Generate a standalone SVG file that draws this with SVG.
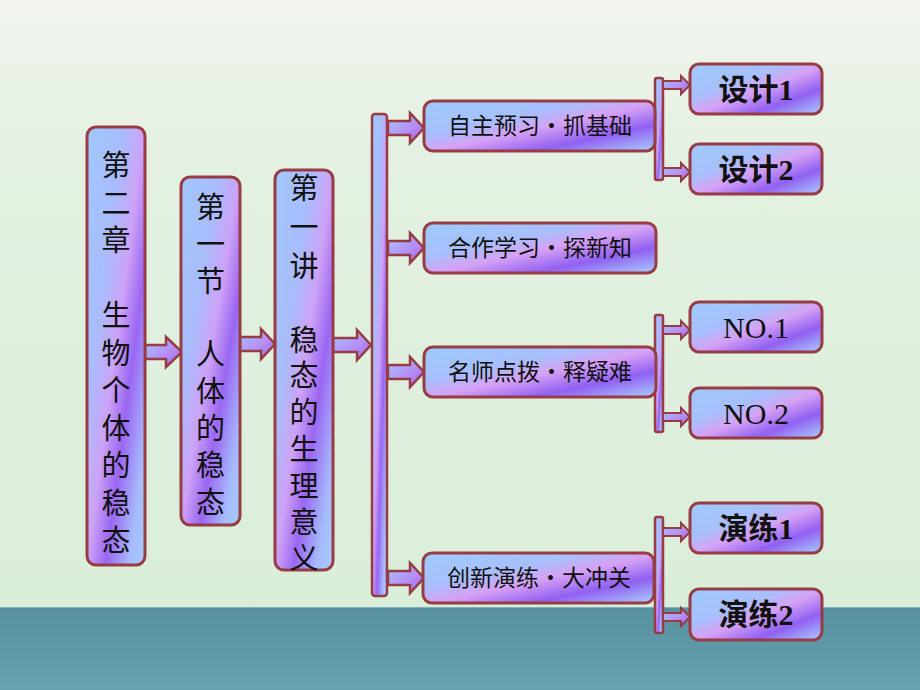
<svg xmlns="http://www.w3.org/2000/svg" width="920" height="690" viewBox="0 0 920 690">
<defs>
<linearGradient id="bg" x1="0" y1="0" x2="0" y2="1">
<stop offset="0" stop-color="#f1f4ef"/>
<stop offset="0.25" stop-color="#e4f1e2"/>
<stop offset="1" stop-color="#d9eed9"/>
</linearGradient>
<linearGradient id="sea" x1="0" y1="0" x2="0" y2="1">
<stop offset="0" stop-color="#5791a0"/>
<stop offset="1" stop-color="#67a2b0"/>
</linearGradient>
<linearGradient id="boxg" x1="0" y1="0" x2="1" y2="1">
<stop offset="0" stop-color="#9ecbff"/>
<stop offset="0.35" stop-color="#a8bffc"/>
<stop offset="0.52" stop-color="#d6a2f5"/>
<stop offset="0.74" stop-color="#9160f2"/>
<stop offset="1" stop-color="#a8cffd"/>
</linearGradient>
<linearGradient id="vg" x1="0" y1="0" x2="1" y2="1">
<stop offset="0" stop-color="#a0c8ff"/>
<stop offset="0.32" stop-color="#a9bcfb"/>
<stop offset="0.5" stop-color="#cda2f6"/>
<stop offset="0.66" stop-color="#9a66f2"/>
<stop offset="0.86" stop-color="#a6bafc"/>
<stop offset="1" stop-color="#a6cdfd"/>
</linearGradient>
<linearGradient id="arg" x1="0" y1="0" x2="1" y2="1">
<stop offset="0" stop-color="#a4c8fe"/>
<stop offset="0.6" stop-color="#b68cf5"/>
<stop offset="1" stop-color="#9463f2"/>
</linearGradient>
<style>
.box{stroke:#983c44;stroke-width:3;fill:url(#boxg)}
.vbox{stroke:#983c44;stroke-width:3;fill:url(#vg)}
.arr{stroke:#983c44;stroke-width:2.5;fill:url(#arg);stroke-linejoin:miter}
.sarr{stroke:#983c44;stroke-width:2;fill:url(#arg)}
.br{stroke:#983c44;stroke-width:2.5;fill:url(#vg)}
.vt{font-family:"Noto Sans CJK SC","Noto Sans CJK TC",sans-serif;font-size:29px;fill:#111;text-anchor:middle}
.mt{font-family:"Noto Sans CJK SC",sans-serif;font-size:23px;fill:#111;text-anchor:middle}
.rt{font-family:"Liberation Serif","Noto Sans CJK SC",serif;font-size:30px;font-weight:bold;fill:#111;text-anchor:middle}
.nt{font-family:"Liberation Serif",serif;font-size:30px;fill:#111;text-anchor:middle}
</style>
</defs>
<rect x="0" y="0" width="920" height="607" fill="url(#bg)"/>
<rect x="0" y="607" width="920" height="83" fill="url(#sea)"/>
<line x1="0" y1="607.5" x2="920" y2="607.5" stroke="#7fb0bb" stroke-width="1"/>

<g id="connectors">
<polygon class="arr" points="145,345 166,345 166,337 182,352 166,367 166,359 145,359"/>
<polygon class="arr" points="240,337 261,337 261,329 275,344 261,359 261,351 240,351"/>
<polygon class="arr" points="333,338 357,338 357,330 371,345 357,360 357,352 333,352"/>
<rect class="br" x="372" y="114" width="15" height="482" rx="3"/>
<polygon class="arr" points="388,121 410,121 410,113 424,128 410,143 410,135 388,135"/>
<polygon class="arr" points="388,241 410,241 410,233 424,248 410,263 410,255 388,255"/>
<polygon class="arr" points="388,365 410,365 410,357 424,372 410,387 410,379 388,379"/>
<polygon class="arr" points="388,571 410,571 410,563 424,578 410,593 410,585 388,585"/>
<rect class="br" x="655" y="78" width="8" height="102" rx="2"/>
<polygon class="sarr" points="663,81 681,81 681,76 690,85 681,94 681,89 663,89"/>
<polygon class="sarr" points="663,168 681,168 681,163 690,172 681,181 681,176 663,176"/>
<rect class="br" x="655" y="315" width="8" height="117" rx="2"/>
<polygon class="sarr" points="663,326 681,326 681,321 690,330 681,339 681,334 663,334"/>
<polygon class="sarr" points="663,413 681,413 681,408 690,417 681,426 681,421 663,421"/>
<rect class="br" x="655" y="517" width="8" height="116" rx="2"/>
<polygon class="sarr" points="663,528 681,528 681,523 690,532 681,541 681,536 663,536"/>
<polygon class="sarr" points="663,613 681,613 681,608 690,617 681,626 681,621 663,621"/>
</g>

<g id="chapter">
<rect class="vbox" x="87" y="127" width="58" height="438" rx="9"/>
<text class="vt"><tspan x="116" y="176">第</tspan><tspan x="116" y="213.5">二</tspan><tspan x="116" y="251">章</tspan><tspan x="116" y="326">生</tspan><tspan x="116" y="363.5">物</tspan><tspan x="116" y="401">个</tspan><tspan x="116" y="438.5">体</tspan><tspan x="116" y="476">的</tspan><tspan x="116" y="513.5">稳</tspan><tspan x="116" y="551">态</tspan></text>
</g>
<g id="section">
<rect class="vbox" x="181" y="177" width="59" height="348" rx="9"/>
<text class="vt"><tspan x="210.5" y="218">第</tspan><tspan x="210.5" y="255">一</tspan><tspan x="210.5" y="292">节</tspan><tspan x="210.5" y="365">人</tspan><tspan x="210.5" y="402">体</tspan><tspan x="210.5" y="439">的</tspan><tspan x="210.5" y="476">稳</tspan><tspan x="210.5" y="513">态</tspan></text>
</g>
<g id="lecture">
<rect class="vbox" x="275" y="170" width="58" height="400" rx="9"/>
<text class="vt"><tspan x="304" y="199">第</tspan><tspan x="304" y="238">一</tspan><tspan x="304" y="277">讲</tspan><tspan x="304" y="351">稳</tspan><tspan x="304" y="386">态</tspan><tspan x="304" y="423">的</tspan><tspan x="304" y="460">生</tspan><tspan x="304" y="497">理</tspan><tspan x="304" y="533">意</tspan><tspan x="304" y="569">义</tspan></text>
</g>

<g id="m1">
<rect class="box" x="424" y="101" width="231" height="50" rx="9"/>
<text class="mt" x="540" y="134">自主预习・抓基础</text>
</g>
<g id="m2">
<rect class="box" x="424" y="223" width="232" height="50" rx="9"/>
<text class="mt" x="540" y="256">合作学习・探新知</text>
</g>
<g id="m3">
<rect class="box" x="424" y="347" width="232" height="50" rx="9"/>
<text class="mt" x="540" y="380">名师点拨・释疑难</text>
</g>
<g id="m4">
<rect class="box" x="423" y="553" width="231" height="50" rx="9"/>
<text class="mt" x="539" y="586">创新演练・大冲关</text>
</g>

<g id="r1">
<rect class="box" x="690" y="64" width="132" height="50" rx="9"/>
<text class="rt" x="756" y="100">设计1</text>
</g>
<g id="r2">
<rect class="box" x="690" y="144" width="132" height="50" rx="9"/>
<text class="rt" x="756" y="180">设计2</text>
</g>
<g id="r3">
<rect class="box" x="690" y="302" width="132" height="50" rx="9"/>
<text class="nt" x="756" y="338">NO.1</text>
</g>
<g id="r4">
<rect class="box" x="690" y="388" width="132" height="50" rx="9"/>
<text class="nt" x="756" y="424">NO.2</text>
</g>
<g id="r5">
<rect class="box" x="690" y="503" width="132" height="50" rx="9"/>
<text class="rt" x="756" y="539">演练1</text>
</g>
<g id="r6">
<rect class="box" x="690" y="589" width="132" height="51" rx="9"/>
<text class="rt" x="756" y="625">演练2</text>
</g>
</svg>
